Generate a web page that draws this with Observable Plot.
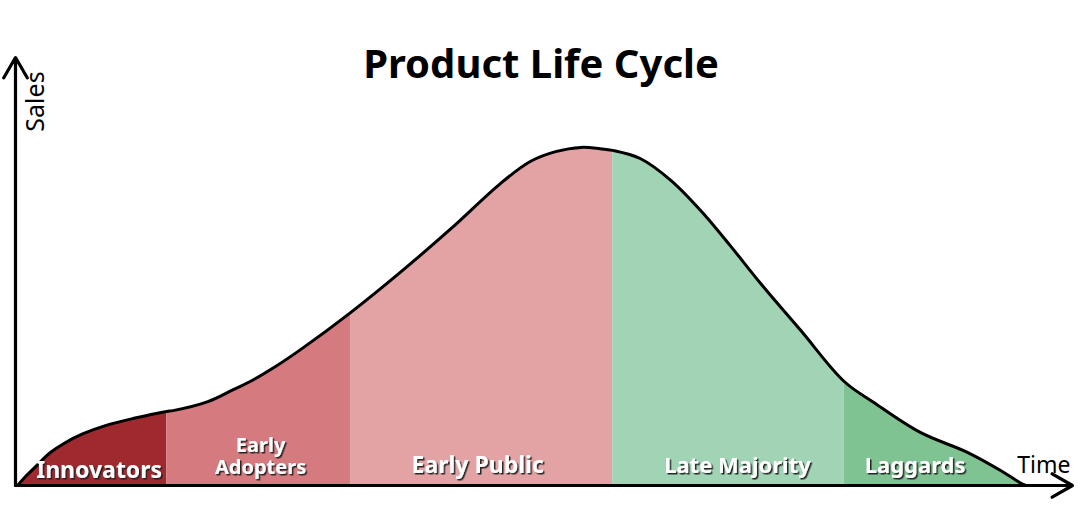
<!DOCTYPE html>
<html>
<head>
<meta charset="utf-8">
<script src="https://cdn.jsdelivr.net/npm/d3@7"></script>
<script src="https://cdn.jsdelivr.net/npm/@observablehq/plot@0.6"></script>
<style>
  html, body { margin: 0; padding: 0; background: #fff; }
  #chart svg { display: block; }
</style>
</head>
<body>
<div id="chart"></div>
<script>
// ---- data ----
const titleText = "Product Life Cycle";
const xLabel = "Time";
const yLabel = "Sales";
const time  = [0.2, 0.95, 1.9, 3.3, 4.7, 6.4, 8.5, 11.2, 14.3, 14.9, 18.2, 20.6, 22.2, 24.6, 27.0, 31.7, 36.4, 41.2, 45.9, 48.7, 51.1, 53.5, 55.3, 56.5, 59.1, 62.0, 64.8, 67.6, 70.5, 74.3, 78.4, 81.2, 85.6, 90.1, 93.2, 95.0, 95.6];
const sales = [0,   2.1,  4.4, 7.7, 10.0, 12.1, 14.0, 15.7, 17.3, 17.5, 19.6, 22.4, 24.3, 27.8, 31.8, 40.4, 49.8, 60.0, 70.6, 75.7, 78.0, 79.0, 78.7, 78.3, 76.4, 71.3, 64.3, 56.1, 47.2, 36.2, 24.3, 19.4, 12.4, 7.7, 3.5, 0.7, 0];
const stages = ["Innovators", "Early\nAdopters", "Early Public", "Late Majority", "Laggards"];
const stageBounds = [0.2, 14.3, 31.7, 56.5, 78.4, 95.6];
const stageColors = ["#9e2a2f", "#d57b80", "#e3a3a5", "#a0d4b4", "#80c393"];

// ---- derived tables ----
const curve = time.map((t, i) => ({t, s: sales[i]}));
const segments = stages.flatMap((name, i) =>
  curve.filter(d => d.t >= stageBounds[i] && d.t <= stageBounds[i + 1])
       .map(d => ({...d, stage: name})));
// layout-only nudges for label placement (pixels)
const labelDx = [7, 2, -4, 9, -20];
const labelDy = [-8, -12, -13, -13, -13];
const labelSize = [23, 20, 23, 22, 22];
const labels = stages.map((name, i) => ({
  name, t: (stageBounds[i] + stageBounds[i + 1]) / 2, dx: labelDx[i], dy: labelDy[i], size: labelSize[i]
}));

const font = "'Noto Sans', 'Open Sans', sans-serif";
const labelFill = "#fefefe";

const plot = Plot.plot({
  width: 1080,
  height: 505,
  marginLeft: 15,
  marginRight: 8,
  marginTop: 57,
  marginBottom: 20,
  x: {domain: [0, 100], axis: null},
  y: {domain: [0, 100], axis: null},
  color: {domain: stages, range: stageColors},
  style: {fontFamily: font, background: "#fff"},
  marks: [
    Plot.area(segments, {x1: "t", y1: () => 0, y2: "s", z: "stage", fill: "stage", curve: "catmull-rom"}),
    Plot.line(curve, {x: "t", y: "s", stroke: "#000", strokeWidth: 3, curve: "catmull-rom"}),
    ...labels.map(d => Plot.text([d], {
      x: "t", y: () => 0, text: "name",
      dx: d.dx, dy: d.dy,
      lineAnchor: "bottom", textAnchor: "middle",
      fontSize: d.size, fontWeight: "bold", lineHeight: 1.1,
      fill: labelFill, fontFamily: font
    })),
    Plot.arrow([{x1: 0, y1: 0, x2: 0, y2: 100}, {x1: 0, y1: 0, x2: 100, y2: 0}], {
      x1: "x1", y1: "y1", x2: "x2", y2: "y2",
      stroke: "#000", strokeWidth: 3.2, headLength: 11, headAngle: 60
    }),
    Plot.text([yLabel], {
      x: () => 0, y: () => 100, text: d => d, rotate: -90,
      dx: 20, dy: 44, textAnchor: "middle", lineAnchor: "middle",
      fontSize: 25, fill: "#000", fontFamily: font
    }),
    Plot.text([xLabel], {
      x: () => 100, y: () => 0, text: d => d,
      dx: -2, dy: -13, textAnchor: "end", lineAnchor: "bottom",
      fontSize: 23, fill: "#000", fontFamily: font
    }),
    Plot.text([titleText], {
      frameAnchor: "top", text: d => d,
      dx: -3, dy: 20, lineAnchor: "bottom",
      fontSize: 40, fontWeight: "bold", fill: "#000", fontFamily: font
    })
  ]
});
// soft dark drop shadow under the white stage labels, as in the reference
const svg = d3.select(plot);
const defs = svg.insert("defs", ":first-child");
const f = defs.append("filter").attr("id", "label-shadow")
  .attr("x", "-10%").attr("y", "-30%").attr("width", "130%").attr("height", "170%");
f.append("feDropShadow").attr("dx", 1.5).attr("dy", 1.5).attr("stdDeviation", 0.6)
  .attr("flood-color", "#1e1e1e").attr("flood-opacity", 0.95);
svg.selectAll(`[fill="${labelFill}"]`).attr("filter", "url(#label-shadow)");
document.getElementById("chart").appendChild(plot);
</script>
</body>
</html>
